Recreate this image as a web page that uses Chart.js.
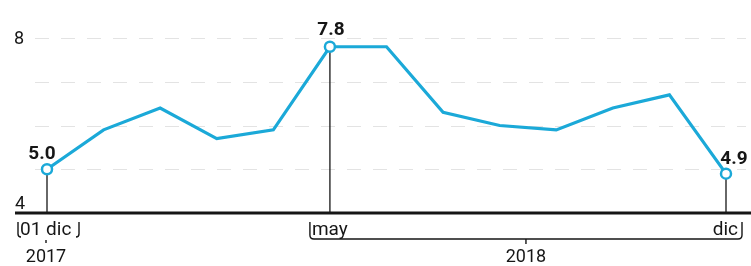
<!DOCTYPE html>
<html>
<head>
    <meta charset="UTF-8">
    <title>Serie mensual</title>
    <script src="https://cdn.jsdelivr.net/npm/chart.js@4/dist/chart.umd.min.js"></script>
    <style>
        body { margin: 0; background: #fff; }
        #wrap { width: 751px; height: 266px; }
    </style>
</head>
<body>
    <div id="wrap"><canvas id="myChart"></canvas></div>
    <script>
        // monthly values, dic 2017 - dic 2018
        var months = ['01 dic', 'ene', 'feb', 'mar', 'abr', 'may', 'jun', 'jul', 'ago', 'sep', 'oct', 'nov', 'dic'];
        var values = [5.0, 5.9, 6.4, 5.7, 5.9, 7.8, 7.8, 6.3, 6.0, 5.9, 6.4, 6.7, 4.9];
        var marked = [0, 5, 12];
        var yTicks = [4, 8];
        var gridValues = [5, 6, 7, 8];
        var years = ['2017', '2018'];

        var blue = '#1ba9d8';
        var ink = '#161616';

        var decor = {
            id: 'decor',
            beforeDatasetsDraw(chart) {
                var ctx = chart.ctx;
                var x = chart.scales.x, y = chart.scales.y;
                var base = y.getPixelForValue(4);
                ctx.save();
                // faint dashed grid
                ctx.strokeStyle = 'rgba(0,0,0,0.11)';
                ctx.lineWidth = 1;
                ctx.setLineDash([14, 12]);
                gridValues.forEach(function (v) {
                    var py = Math.round(y.getPixelForValue(v)) + 0.5;
                    ctx.beginPath();
                    ctx.moveTo(35, py);
                    ctx.lineTo(746, py);
                    ctx.stroke();
                });
                ctx.setLineDash([]);
                // drop lines
                ctx.strokeStyle = ink;
                ctx.lineWidth = 1.3;
                marked.forEach(function (i) {
                    var px = x.getPixelForValue(i);
                    ctx.beginPath();
                    ctx.moveTo(px, y.getPixelForValue(values[i]));
                    ctx.lineTo(px, base);
                    ctx.stroke();
                });
                // base axis
                ctx.lineWidth = 3;
                ctx.beginPath();
                ctx.moveTo(15, base);
                ctx.lineTo(751, base);
                ctx.stroke();
                ctx.restore();
            },
            afterDatasetsDraw(chart) {
                var ctx = chart.ctx;
                var x = chart.scales.x, y = chart.scales.y;
                var base = y.getPixelForValue(4);
                ctx.save();
                ctx.fillStyle = ink;
                ctx.strokeStyle = ink;

                // y labels
                ctx.font = '18px Roboto';
                ctx.textAlign = 'left';
                ctx.textBaseline = 'middle';
                ctx.fillText(yTicks[1], 14, y.getPixelForValue(yTicks[1]) + 1);
                ctx.textBaseline = 'alphabetic';
                ctx.fillText(yTicks[0], 15, base - 4);

                // value labels
                ctx.font = 'bold 19px Roboto';
                ctx.textAlign = 'center';
                var offs = { 0: -5, 5: 1, 12: 8 };
                marked.forEach(function (i) {
                    var px = x.getPixelForValue(i);
                    var py = y.getPixelForValue(values[i]);
                    ctx.fillText(values[i].toFixed(1), px + offs[i], py - (i === 5 ? 12 : 10));
                });

                // month labels
                var x0 = x.getPixelForValue(0), x5 = x.getPixelForValue(5), x12 = x.getPixelForValue(12);
                ctx.font = '19px Roboto';
                ctx.textBaseline = 'alphabetic';
                ctx.textAlign = 'left';
                ctx.fillText(months[0], x0 - 27, base + 22);
                ctx.fillText(months[5], x5 - 18, base + 22);
                ctx.textAlign = 'right';
                ctx.fillText(months[12], x12 + 12, base + 22);

                // brackets
                ctx.lineWidth = 1.4;
                var top = base + 9, bot = base + 24;
                ctx.beginPath();
                ctx.moveTo(x0 - 29, top);
                ctx.lineTo(x0 - 29, bot - 3);
                ctx.quadraticCurveTo(x0 - 29, bot, x0 - 26, bot);
                ctx.moveTo(x0 + 32, top);
                ctx.lineTo(x0 + 32, bot - 3);
                ctx.quadraticCurveTo(x0 + 32, bot, x0 + 29, bot);
                ctx.moveTo(x0 - 1, bot + 3);
                ctx.lineTo(x0 - 1, bot + 6);
                ctx.stroke();

                var bot2 = base + 26;
                ctx.beginPath();
                ctx.moveTo(x5 - 20, top);
                ctx.lineTo(x5 - 20, bot2 - 4);
                ctx.quadraticCurveTo(x5 - 20, bot2, x5 - 16, bot2);
                ctx.lineTo(x12 + 12, bot2);
                ctx.quadraticCurveTo(x12 + 16, bot2, x12 + 16, bot2 - 4);
                ctx.lineTo(x12 + 16, top);
                ctx.stroke();
                var mid = (x5 - 20 + x12 + 16) / 2;
                ctx.beginPath();
                ctx.moveTo(mid, bot2);
                ctx.lineTo(mid, bot2 + 5);
                ctx.stroke();

                // years
                ctx.font = '18px Roboto';
                ctx.textAlign = 'center';
                ctx.fillText(years[0], x0 - 1, base + 49);
                ctx.fillText(years[1], mid, base + 49);
                ctx.restore();
            }
        };

        var radii = values.map(function (v, i) { return marked.indexOf(i) >= 0 ? 5 : 0; });

        new Chart(document.getElementById('myChart'), {
            type: 'line',
            data: {
                labels: months,
                datasets: [{
                    data: values,
                    borderColor: blue,
                    borderWidth: 3.2,
                    tension: 0,
                    pointRadius: radii,
                    pointHoverRadius: radii,
                    pointBackgroundColor: '#fff',
                    pointBorderColor: blue,
                    pointBorderWidth: 2.5
                }]
            },
            options: {
                responsive: true,
                maintainAspectRatio: false,
                animation: false,
                layout: { padding: { left: 47, right: 25, top: 38, bottom: 53 } },
                plugins: { legend: { display: false }, tooltip: { enabled: false } },
                scales: {
                    x: { display: false, offset: false },
                    y: { display: false, min: 4, max: 8 }
                }
            },
            plugins: [decor]
        });
    </script>
</body>
</html>
